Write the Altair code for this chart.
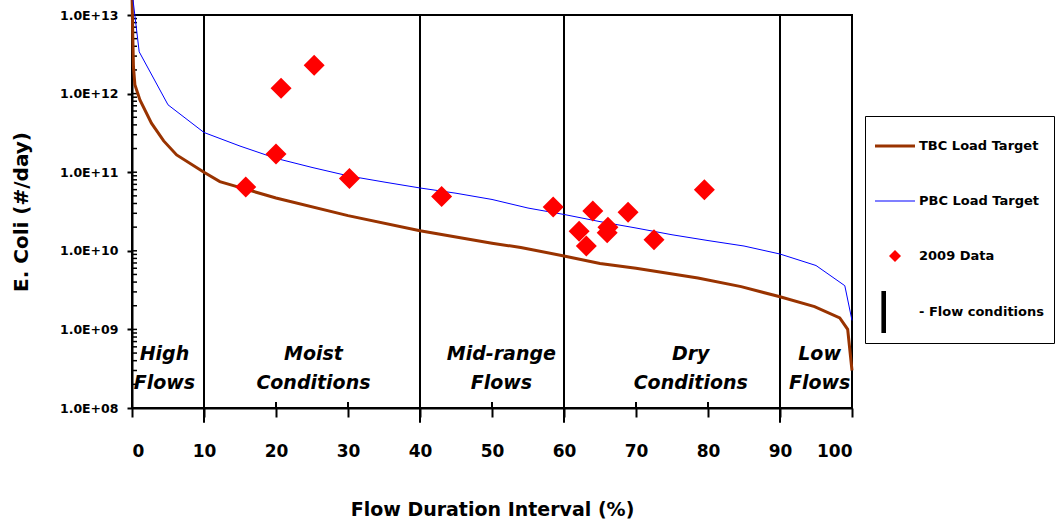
import altair as alt
import pandas as pd

FONT = "Comic Sans MS, DejaVu Sans"

# TBC load target curve (brown)
tbc_x = [0, 0.1, 0.2, 0.4, 1.1, 2.7, 4.4, 6.2, 10, 12.2, 16, 20, 30, 40, 50, 54,
         60, 65, 70, 78.6, 84.6, 90, 94.8, 98.3, 99.4, 100]
tbc_y = [2e13, 6e12, 2.2e12, 1.3e12, 8.3e11, 4.2e11, 2.5e11, 1.66e11, 1.0e11, 7.6e10,
         6.0e10, 4.7e10, 2.8e10, 1.8e10, 1.25e10, 1.1e10, 8.6e9, 6.9e9, 6.0e9, 4.5e9,
         3.5e9, 2.6e9, 1.95e9, 1.4e9, 1.0e9, 3e8]

# PBC load target curve (blue)
pbc_x = [0, 1, 5, 10, 15, 20, 25, 30, 35, 40, 45, 50, 55, 60, 65, 70, 75, 80, 85,
         90, 95, 99, 100]
pbc_y = [2e13, 3.4e12, 7.2e11, 3.2e11, 2.15e11, 1.5e11, 1.15e11, 9.0e10, 7.5e10,
         6.3e10, 5.4e10, 4.5e10, 3.5e10, 2.9e10, 2.35e10, 1.95e10, 1.6e10, 1.35e10,
         1.15e10, 9.1e9, 6.5e9, 3.6e9, 1.3e9]

# 2009 observations
obs_x = [15.8, 20.0, 20.7, 25.3, 30.2, 43.0, 58.5, 64.0, 62.1, 63.1, 66.1, 66.0,
         68.9, 72.5, 79.5]
obs_y = [6.5e10, 1.7e11, 1.17e12, 2.3e12, 8.3e10, 4.9e10, 3.6e10, 3.2e10, 1.77e10,
         1.15e10, 2.0e10, 1.7e10, 3.1e10, 1.38e10, 6.0e10]

# flow condition boundaries and labels
bound_x = [10, 40, 60, 90]
zone_x = [4.5, 25.2, 51.3, 77.6, 95.5]
zone_text = ["High\nFlows", "Moist\nConditions", "Mid-range\nFlows", "Dry\nConditions", "Low\nFlows"]

x_ticks = [0, 10, 20, 30, 40, 50, 60, 70, 80, 90, 100]
y_ticks = [1e8, 1e9, 1e10, 1e11, 1e12, 1e13]
minor_mult = [1, 2, 3, 4, 5, 6, 7, 8, 9]

series_names = ["TBC Load Target", "PBC Load Target", "2009 Data", "- Flow conditions"]
series_colors = ["#993300", "#0000ff", "#ff0000", "#000000"]
series_shapes = [
    "M-1,-0.075H1V0.075H-1Z",
    "M-1,-0.025H1V0.025H-1Z",
    "M0,-0.3L0.3,0L0,0.3L-0.3,0Z",
    "M-0.68,-1.05H-0.45V1.05H-0.68Z",
]

tbc = pd.DataFrame({"x": tbc_x, "y": tbc_y})
pbc = pd.DataFrame({"x": pbc_x, "y": pbc_y})
obs = pd.DataFrame({"x": obs_x, "y": obs_y, "series": "2009 Data"})
bounds = pd.DataFrame({"x": bound_x, "y": 1e13, "y2": 6.5e7})
zones = pd.DataFrame({"x": zone_x, "y": 4.9e8, "t": zone_text})
minor = pd.DataFrame({"y": [m * t for t in y_ticks[:-1] for m in minor_mult] + [y_ticks[-1]]})
xin = pd.DataFrame({"x": x_ticks})

X = alt.X("x:Q", scale=alt.Scale(domain=[0, 100], nice=False, zero=False),
          axis=alt.Axis(values=x_ticks, tickSize=9, tickWidth=2, domainWidth=2,
                        domainColor="black", tickColor="black", labelFontSize=17,
                        labelFontWeight="bold", labelFont=FONT, labelPadding=26,
                        labelColor="black", grid=False,
                        title="Flow Duration Interval (%)", titleFontSize=19,
                        titleFont=FONT, titleFontWeight="bold", titlePadding=41,
                        titleColor="black"))
Y = alt.Y("y:Q", scale=alt.Scale(type="log", domain=[1e8, 1e13], nice=False),
          axis=alt.Axis(values=y_ticks, tickSize=5, tickWidth=2, domainWidth=2,
                        domainColor="black", tickColor="black", labelFontSize=12.5,
                        labelFontWeight="bold", labelFont=FONT, labelPadding=9,
                        labelColor="black", grid=False,
                        labelExpr="'1.0E+' + (round(log(datum.value)/LN10) < 10 ? '0' : '') + round(log(datum.value)/LN10)",
                        title="E. Coli (#/day)", titleFontSize=20, titleFont=FONT,
                        titleFontWeight="bold", titlePadding=28, titleColor="black"))

leg = alt.Legend(orient="none", legendX=733, legendY=101, title=None,
                 strokeColor="black", fillColor="white", padding=10,
                 symbolSize=1600, symbolStrokeWidth=0, symbolOpacity=1,
                 labelFont=FONT, labelFontSize=13, labelFontWeight="bold",
                 labelColor="black", rowPadding=28, labelOffset=4, labelLimit=300)

tbc_line = alt.Chart(tbc).mark_line(color="#993300", strokeWidth=3, clip=False).encode(x=X, y=Y)
pbc_line = alt.Chart(pbc).mark_line(color="#0000ff", strokeWidth=1, clip=False).encode(x=X, y=Y)
bound_rules = alt.Chart(bounds).mark_rule(color="black", strokeWidth=2, clip=False).encode(
    x=X, y=Y, y2="y2:Q")
minor_ticks = alt.Chart(minor).mark_rule(color="black", strokeWidth=1.5).encode(
    y=Y, x=alt.value(0), x2=alt.value(5))
x_inner_ticks = alt.Chart(xin).mark_rule(color="black", strokeWidth=2).encode(
    x=X, y=alt.value(387), y2=alt.value(393))
zone_labels = alt.Chart(zones).mark_text(
    font=FONT, fontSize=19, fontWeight="bold", fontStyle="italic", lineBreak="\n",
    lineHeight=29, baseline="middle", align="center", color="black").encode(
    x=X, y=Y, text="t:N")
points = alt.Chart(obs).mark_point(filled=True, size=4900, opacity=1).encode(
    x=X, y=Y,
    color=alt.Color("series:N", scale=alt.Scale(domain=series_names, range=series_colors), legend=leg),
    shape=alt.Shape("series:N", scale=alt.Scale(domain=series_names, range=series_shapes), legend=leg),
)

chart = alt.layer(bound_rules, minor_ticks, x_inner_ticks, tbc_line, pbc_line, points,
                  zone_labels).properties(
    width=720, height=393,
    autosize=alt.AutoSizeParams(type="none"),
    padding={"left": 132, "top": 15, "right": 205, "bottom": 117},
    background="white",
).configure_view(stroke="black", strokeWidth=2)

chart.save("out.html", embed_options={"renderer": "svg", "actions": False})
